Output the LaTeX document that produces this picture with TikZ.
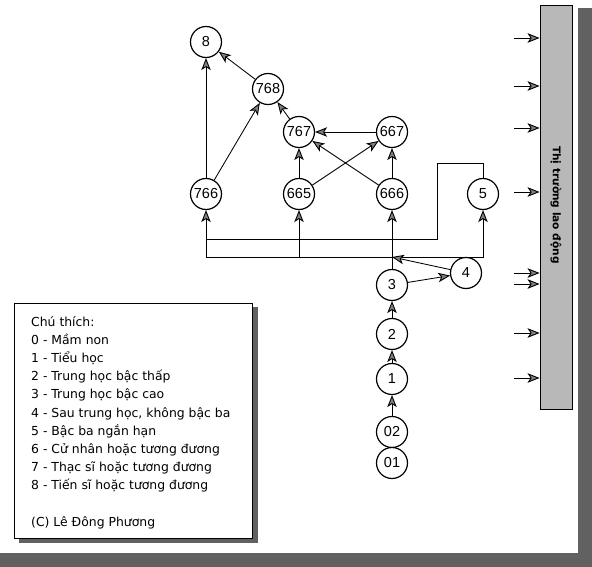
\documentclass[tikz,border=0pt]{standalone}
\usepackage{fontspec}
\setmainfont{DejaVu Sans}
\newfontfamily\numfont{Liberation Sans}
\usetikzlibrary{arrows.meta, calc}

\begin{document}
\begin{tikzpicture}[
    x=1pt, y=-1pt,
    >=Stealth,
    every node/.style={font=\rmfamily, text=black},
    arr/.style={-{Stealth[length=12pt, width=9.5pt, inset=3pt, fill=black!50, line width=0.9pt]}, line width=0.85pt, draw=black},
    line/.style={line width=0.85pt, draw=black},
    level/.style={
      circle, draw=black, line width=1.2pt,
      fill=white, minimum size=31pt, inner sep=0pt,
      font=\numfont\fontsize{14.5}{14.5}\selectfont
    },
    market/.style={
      rectangle, draw=black, line width=0.9pt,
      fill=black!28, minimum width=32pt, minimum height=404pt
    },
    legend/.style={
      rectangle, draw=black, line width=0.9pt,
      fill=white, minimum width=238pt, minimum height=235pt
    },
    shadow/.style={fill=black!62, draw=none}
  ]

    \useasboundingbox (0,0) rectangle (592,567);

    % frame shadow
    \fill[shadow] (578,8) rectangle (592,567);
    \fill[shadow] (0,553) rectangle (592,567);

    % legend box
    \fill[shadow] (19,307) rectangle (258,543);
    \node[legend] (leg) at (133.5,420.5) {};
    \node[anchor=north west, align=left, inner sep=0pt,
          font=\rmfamily\fontsize{12.4}{18.2}\selectfont] (legtext) at (31,316)
      {Chú thích:\\
       0 - Mầm non\\
       1 - Tiểu học\\
       2 - Trung học bậc thấp\\
       3 - Trung học bậc cao\\
       4 - Sau trung học, không bậc ba\\
       5 - Bậc ba ngắn hạn\\
       6 - Cử nhân hoặc tương đương\\
       7 - Thạc sĩ hoặc tương đương\\
       8 - Tiến sĩ hoặc tương đương\\[18.2pt]
       (C) Lê Đông Phương};

    % labour market bar
    \node[market] (bar) at (556,207) {};
    \node[rotate=-90, font=\bfseries\fontsize{10.6}{11}\selectfont] (barlabel) at (556,205)
      {Thị trường lao động};

    \foreach \y [count=\i] in {38,86,128,192,273,284,333,378} {
      \coordinate (in\i) at (514,\y);
      \draw[arr] (in\i) -- (in\i -| bar.west);
    }

    % levels
    \node[level] (n8) at (206,42) {8};
    \node[level] (n768) at (268,89) {768};
    \node[level] (n767) at (299,132) {767};
    \node[level] (n667) at (392,132) {667};
    \node[level] (n766) at (206,194) {766};
    \node[level] (n665) at (299,194) {665};
    \node[level] (n666) at (392,194) {666};
    \node[level] (n5) at (483,194) {5};
    \node[level] (n4) at (466,273) {4};
    \node[level] (n3) at (392,285) {3};
    \node[level] (n2) at (392,334) {2};
    \node[level] (n1) at (392,379) {1};
    \node[level] (n02) at (392,432) {02};
    \node[level] (n01) at (392,463) {01};

    % upper levels
    \draw[arr] (n766) -- (n8);
    \draw[arr] (n766) -- (n768);
    \draw[arr] (n767) -- (n768);
    \draw[arr] (n768) -- (n8);
    \draw[arr] (n665) -- (n767);
    \draw[arr] (n665) -- (n667);
    \draw[arr] (n666) -- (n767);
    \draw[arr] (n666) -- (n667);
    \draw[arr] (n667) -- (n767);

    % bus from 3 and 4
    \coordinate (jn) at (392,257);
    \draw[arr] (n3) -- (n666);
    \draw[arr] (jn) -| (n766.south);
    \draw[arr] (jn) -| (n5.south);
    \draw[arr] (jn -| n665.south) -- (n665.south);
    \draw[arr] (n3) -- (n4);
    \draw[arr] (n4) -- (jn);

    % 5 back to 766
    \coordinate (lp1) at (437,163);
    \coordinate (lp2) at (437,239);
    \draw[line] (n5.north) |- (lp1) -- (lp2) -- (lp2 -| n766.south);

    % lower levels
    \draw[arr] (n2) -- (n3);
    \draw[arr] (n1) -- (n2);
    \draw[arr] (n02) -- (n1);

  \end{tikzpicture}
\end{document}
